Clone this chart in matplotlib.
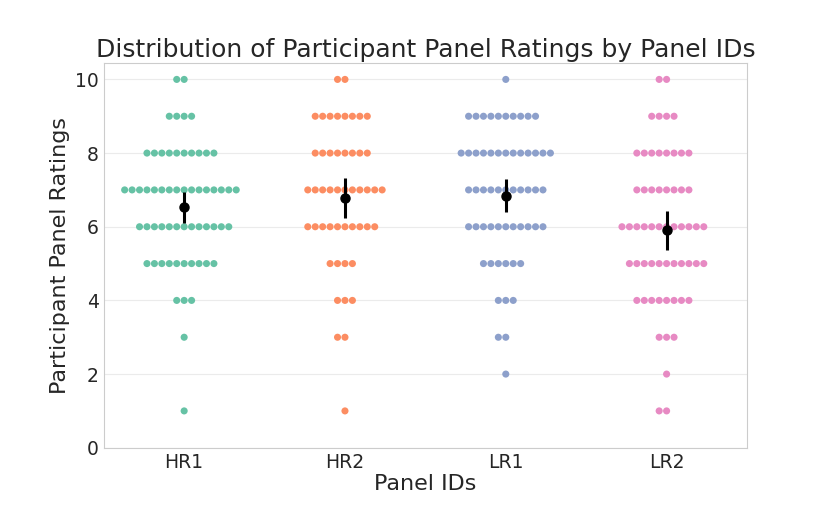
import matplotlib
matplotlib.use("Agg")
import matplotlib.pyplot as plt
import seaborn as sns
import numpy as np
import pandas as pd

# ratings and how many participants gave each rating, per panel
panels = ["HR1", "HR2", "LR1", "LR2"]
ratings = [10, 9, 8, 7, 6, 5, 4, 3, 2, 1]
counts_hr1 = [2, 4, 10, 16, 13, 10, 3, 1, 0, 1]
counts_hr2 = [2, 8, 8, 11, 10, 4, 3, 2, 0, 1]
counts_lr1 = [1, 10, 13, 11, 11, 6, 3, 2, 1, 0]
counts_lr2 = [2, 4, 8, 8, 12, 11, 8, 3, 1, 2]
colors = ["#66c2a5", "#fc8d62", "#8da0cb", "#e78ac3"]

allcounts = [counts_hr1, counts_hr2, counts_lr1, counts_lr2]
rows = []
for p, c in zip(panels, allcounts):
    vals = np.repeat(ratings, c)
    rows.append(pd.DataFrame({"panel": p, "rating": vals}))
df = pd.concat(rows, ignore_index=True)

sns.set_style("whitegrid", {"grid.color": ".92", "axes.edgecolor": ".8"})
plt.rcParams['font.family'] = ['DejaVu Sans']

fig, ax = plt.subplots(figsize=(8.3, 5.28), dpi=100)
fig.subplots_adjust(left=0.125, right=0.9, bottom=0.152, top=0.881)

sns.swarmplot(data=df, x="panel", y="rating", hue="panel", order=panels,
              palette=colors, size=5.1, linewidth=0, legend=False, ax=ax)

# mean and 95% CI per panel
means = df.groupby("panel")["rating"].mean().reindex(panels)
sems = df.groupby("panel")["rating"].sem().reindex(panels)
ax.errorbar(np.arange(len(panels)), means.values, yerr=1.96 * sems.values,
            fmt="o", color="black", ms=6.5, elinewidth=2.2, capsize=0, zorder=10)

ax.set_xlim(-0.5, 3.5)
ax.set_ylim(0, 10.45)
ax.set_yticks([0, 2, 4, 6, 8, 10])
ax.xaxis.grid(False)
ax.tick_params(axis="both", labelsize=13.5, colors=".15", length=0)
ax.set_xlabel("Panel IDs", fontsize=16, color=".15", labelpad=2)
ax.set_ylabel("Participant Panel Ratings", fontsize=16, color=".15")
ax.set_title("Distribution of Participant Panel Ratings by Panel IDs",
             fontsize=18, color=".15", pad=4)

plt.savefig("out.png", dpi=100)
plt.close()
